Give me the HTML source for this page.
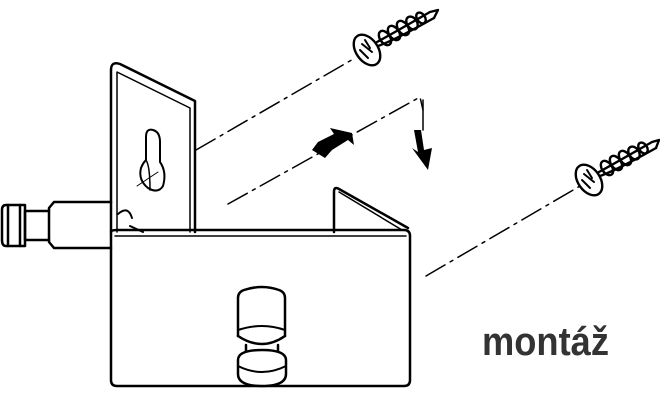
<!DOCTYPE html>
<html><head><style>html,body{margin:0;padding:0;background:#fff}svg{display:block}</style></head>
<body>
<svg width="660" height="400" viewBox="0 0 660 400" xmlns="http://www.w3.org/2000/svg">
<g fill="none" stroke="#000" stroke-width="2.5" stroke-linejoin="round" stroke-linecap="round">
<!-- peg left -->
<path d="M111,202 H54 L49,208 V242 L54,248 H111"/>
<path d="M49,211 H25 V240 H49"/>
<path d="M25,205 H6 Q2,205 2,210 V240 Q2,246 6,246 H25 Z"/>
<path d="M8,205 V246 M20,205 V246"/>
<!-- vertical plate -->
<path d="M111,232 V70 Q111,61 120,64 L195,101 V232"/>
<path d="M117,232 V72 L190,108 V232" stroke-width="1.5"/>
<path d="M118,214 Q128,205 132,218 M130,226 L143,232" stroke-width="2"/>
<!-- keyhole -->
<path d="M146,160 V137 Q146,128 153,130 Q160,132 160,142 V162 Q167,172 163,186 Q158,194 148,188 Q138,180 141,168 Q143,163 146,160 Z" stroke-width="2"/>
<path d="M146,160 Q150,166 150,190" stroke-width="1.5"/>
<path d="M137,186 L158,172" stroke-width="1"/>
<!-- main box -->
<path d="M111,232 V380 Q111,386 117,386 H404 Q410,386 410,380 V236 Q410,230 404,230 H117 Q111,230 111,232"/>
<path d="M115,236 H406" stroke-width="1.5"/>
<!-- triangle flap -->
<path d="M334,232 V192 Q334,186 339,189 L408,228" />
<path d="M339,192 L402,230" stroke-width="1.5"/>
<!-- knob -->
<path d="M238,298 Q238,292 244,290 Q262,284 279,290 Q285,292 285,298 V336 M238,298 V336"/>
<path d="M238,330 Q262,322 285,330" stroke-width="2"/>
<path d="M238,336 Q262,352 285,336" />
<path d="M246,345 V354 M278,345 V354"/>
<path d="M238,360 Q238,350 262,350 Q286,350 286,360 V374 Q286,386 262,386 Q238,386 238,374 Z" fill="#fff"/>
<path d="M238,366 Q262,378 286,366" stroke-width="2"/>
<!-- dash-dot lines -->
<g stroke-width="1.5" stroke-dasharray="22,6,3,6">
<path d="M196,150 L355,58"/>
<path d="M228,204 L420,97 L423,110"/>
<path d="M426,276 L580,186"/>
</g>
<path d="M423,100 V130" stroke-width="1.5"/>
<!-- screws -->
<g stroke-width="2.4">
<ellipse cx="367" cy="50" rx="11" ry="17" transform="rotate(-35 367 50)" fill="#fff"/>
<path d="M362,44 L372,52 M360,50 L368,58 M365,40 L370,48" stroke-width="2"/>
<path d="M377,42 Q390,35 430,12 L438,10 L434,18"/>
<path d="M378,46 Q395,40 434,18"/>
<g stroke-width="2.4">
<ellipse cx="385" cy="38" rx="5" ry="8" transform="rotate(-35 385 38)"/>
<ellipse cx="394" cy="33" rx="5" ry="8" transform="rotate(-35 394 33)"/>
<ellipse cx="403" cy="28" rx="5" ry="8" transform="rotate(-35 403 28)"/>
<ellipse cx="412" cy="23" rx="5" ry="7" transform="rotate(-35 412 23)"/>
<ellipse cx="421" cy="18" rx="4" ry="6" transform="rotate(-35 421 18)"/>
</g>
<ellipse cx="589" cy="180" rx="11" ry="17" transform="rotate(-35 589 180)" fill="#fff"/>
<path d="M584,174 L594,182 M582,180 L590,188 M587,170 L592,178" stroke-width="2"/>
<path d="M599,172 Q612,165 652,142 L659,140 L656,148"/>
<path d="M600,176 Q617,170 656,148"/>
<g stroke-width="2.4">
<ellipse cx="607" cy="168" rx="5" ry="8" transform="rotate(-35 607 168)"/>
<ellipse cx="616" cy="163" rx="5" ry="8" transform="rotate(-35 616 163)"/>
<ellipse cx="625" cy="158" rx="5" ry="8" transform="rotate(-35 625 158)"/>
<ellipse cx="634" cy="153" rx="5" ry="7" transform="rotate(-35 634 153)"/>
<ellipse cx="643" cy="148" rx="4" ry="6" transform="rotate(-35 643 148)"/>
</g>
</g>
</g>
<!-- arrows -->
<path d="M312,150 L318,142 L334,134 L330,128 L352,133 L354,145 L348,140 L332,150 L325,158 Z" fill="#000"/>
<path d="M414,130 L421,130 L424,150 L432,148 L428,170 L412,148 L418,152 Z" fill="#000"/>
<text x="482" y="355" font-family="Liberation Sans, sans-serif" font-weight="bold" font-size="40" fill="#333" textLength="127" lengthAdjust="spacingAndGlyphs">montáž</text>
</svg>
</body></html>
